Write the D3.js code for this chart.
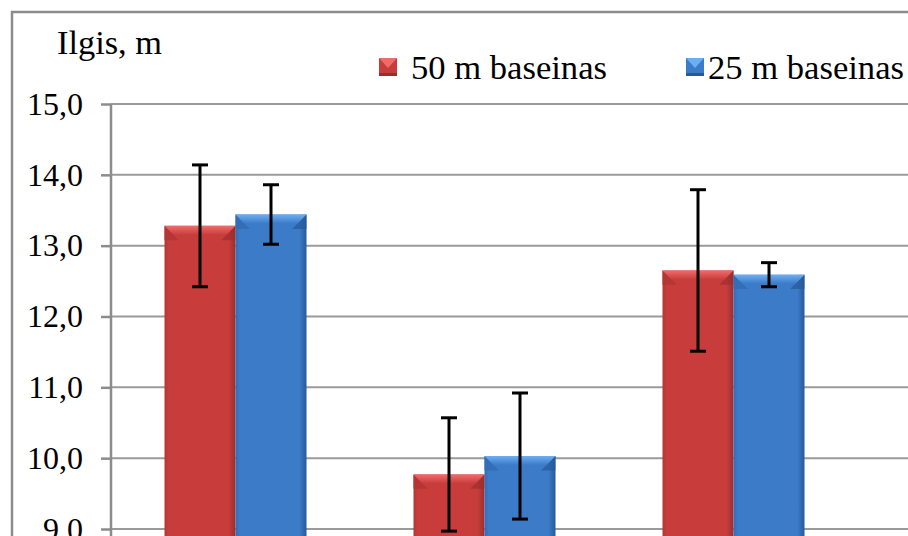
<!DOCTYPE html>
<html><head><meta charset="utf-8">
<script src="https://cdn.jsdelivr.net/npm/d3@7"></script>
<style>html,body{margin:0;padding:0;background:#fff;overflow:hidden}
svg text{font-family:"Liberation Serif","DejaVu Serif","Noto Serif","Tinos","FreeSerif","Nimbus Roman","Times New Roman",Times,serif;}</style>
</head><body>
<svg id="c" width="908" height="536"></svg>
<script>
const categories = ["A", "B", "C"];
const seriesNames = ["50 m baseinas", "25 m baseinas"];
const values50 = [13.28, 9.77, 12.65];
const values25 = [13.44, 10.03, 12.59];
const err50 = [0.86, 0.80, 1.14];
const err25 = [0.42, 0.89, 0.17];
const yTicks = [9, 10, 11, 12, 13, 14, 15];
const axisTitle = "Ilgis, m";

const svg = d3.select("#c");
const W = 908, H = 536;

const defs = svg.append("defs");
const palettes = [
  {main:"#c83d3c", light:"#ef6c6a", dark:"#9c2d2d", side:"#b33634"},
  {main:"#3b7bc8", light:"#6eaef0", dark:"#275a99", side:"#336db4"}
];
palettes.forEach((p,i)=>{
  const g = defs.append("linearGradient").attr("id","body"+i).attr("x1",0).attr("x2",1).attr("y1",0).attr("y2",0);
  g.append("stop").attr("offset","0").attr("stop-color",p.side);
  g.append("stop").attr("offset","0.06").attr("stop-color",p.main);
  g.append("stop").attr("offset","0.9").attr("stop-color",p.main);
  g.append("stop").attr("offset","1").attr("stop-color",p.dark);
  const t = defs.append("linearGradient").attr("id","top"+i).attr("x1",0).attr("x2",0).attr("y1",0).attr("y2",1);
  t.append("stop").attr("offset","0").attr("stop-color",p.light);
  t.append("stop").attr("offset","1").attr("stop-color",p.main);
});

// outer border
svg.append("path").attr("d",`M12,${H} L12,12 L${W},12`).attr("fill","none").attr("stroke","#8c8c8c").attr("stroke-width",2.5);

const x0 = 111;
const y = d3.scaleLinear().domain([9,15]).range([529,104]);
const x = d3.scaleBand().domain(categories).range([x0, x0+3*249]).paddingInner(0).paddingOuter(0);
const xs = d3.scaleBand().domain([0,1]).range([0,142]);
const barOffset = (249-142)/2;

// gridlines
svg.append("g").selectAll("line").data(yTicks).join("line")
  .attr("x1",x0).attr("x2",W).attr("y1",d=>y(d)).attr("y2",d=>y(d))
  .attr("stroke","#9a9a9a").attr("stroke-width",2);

// y axis
const yAxis = d3.axisLeft(y).tickValues(yTicks).tickSize(10).tickPadding(18)
  .tickFormat(d=>d3.format(".1f")(d).replace(".",","));
const ga = svg.append("g").attr("transform",`translate(${x0},0)`).call(yAxis);
ga.attr("font-family",null);
ga.select(".domain").remove();
ga.append("line").attr("x1",0).attr("x2",0).attr("y1",y(15)).attr("y2",H).attr("stroke","#8c8c8c").attr("stroke-width",2.5);
ga.selectAll(".tick line").attr("stroke","#8c8c8c").attr("stroke-width",2.5);
ga.selectAll(".tick text").attr("font-size",32).attr("fill","#000");

// axis title
svg.append("text").attr("x",57).attr("y",54).attr("font-size",33).attr("fill","#000")
  .attr("textLength",105).attr("lengthAdjust","spacingAndGlyphs").text(axisTitle);

// bars
const series = [values50, values25];
const errs = [err50, err25];
const bev = 9;
series.forEach((vals,si)=>{
  const g = svg.append("g");
  categories.forEach((c,ci)=>{
    const bx = x(c)+barOffset+xs(si), bw = xs.bandwidth();
    const top = y(vals[ci]), bot = H+5;
    g.append("rect").attr("x",bx).attr("y",top).attr("width",bw).attr("height",bot-top).attr("fill",`url(#body${si})`);
    g.append("path").attr("d",`M${bx},${top} L${bx+bev*1.6},${top+bev*1.6} L${bx},${top+bev*1.6} Z`).attr("fill",palettes[si].side).attr("opacity",0.9);
    g.append("path").attr("d",`M${bx+bw},${top} L${bx+bw-bev*1.6},${top+bev*1.6} L${bx+bw},${top+bev*1.6} Z`).attr("fill",palettes[si].dark).attr("opacity",0.7);
    g.append("path").attr("d",`M${bx},${top} L${bx+bw},${top} L${bx+bw-bev},${top+bev} L${bx+bev},${top+bev} Z`).attr("fill",`url(#top${si})`);
  });
});

// error bars
series.forEach((vals,si)=>{
  const g = svg.append("g").attr("stroke","#000").attr("stroke-width",3);
  categories.forEach((c,ci)=>{
    const cx = x(c)+barOffset+xs(si)+xs.bandwidth()/2;
    const hi = y(vals[ci]+errs[si][ci]), lo = y(vals[ci]-errs[si][ci]);
    g.append("line").attr("x1",cx).attr("x2",cx).attr("y1",hi).attr("y2",lo);
    g.append("line").attr("x1",cx-8).attr("x2",cx+8).attr("y1",hi).attr("y2",hi);
    g.append("line").attr("x1",cx-8).attr("x2",cx+8).attr("y1",lo).attr("y2",lo);
  });
});

// legend
const legX = [379, 686], legT = [411, 708];
seriesNames.forEach((n,i)=>{
  const p = palettes[i];
  const sx = legX[i], sy = 58, s = 18;
  svg.append("rect").attr("x",sx).attr("y",sy).attr("width",s).attr("height",s).attr("fill",p.main);
  svg.append("path").attr("d",`M${sx},${sy} L${sx+s},${sy} L${sx+s/2},${sy+s*0.55} Z`).attr("fill",p.light);
  svg.append("rect").attr("x",sx).attr("y",sy+s-3).attr("width",s).attr("height",3).attr("fill",p.dark);
  svg.append("text").attr("x",legT[i]).attr("y",79).attr("font-size",34).attr("fill","#000")
    .attr("textLength",196).attr("lengthAdjust","spacingAndGlyphs").text(n);
});
</script>
</body></html>
